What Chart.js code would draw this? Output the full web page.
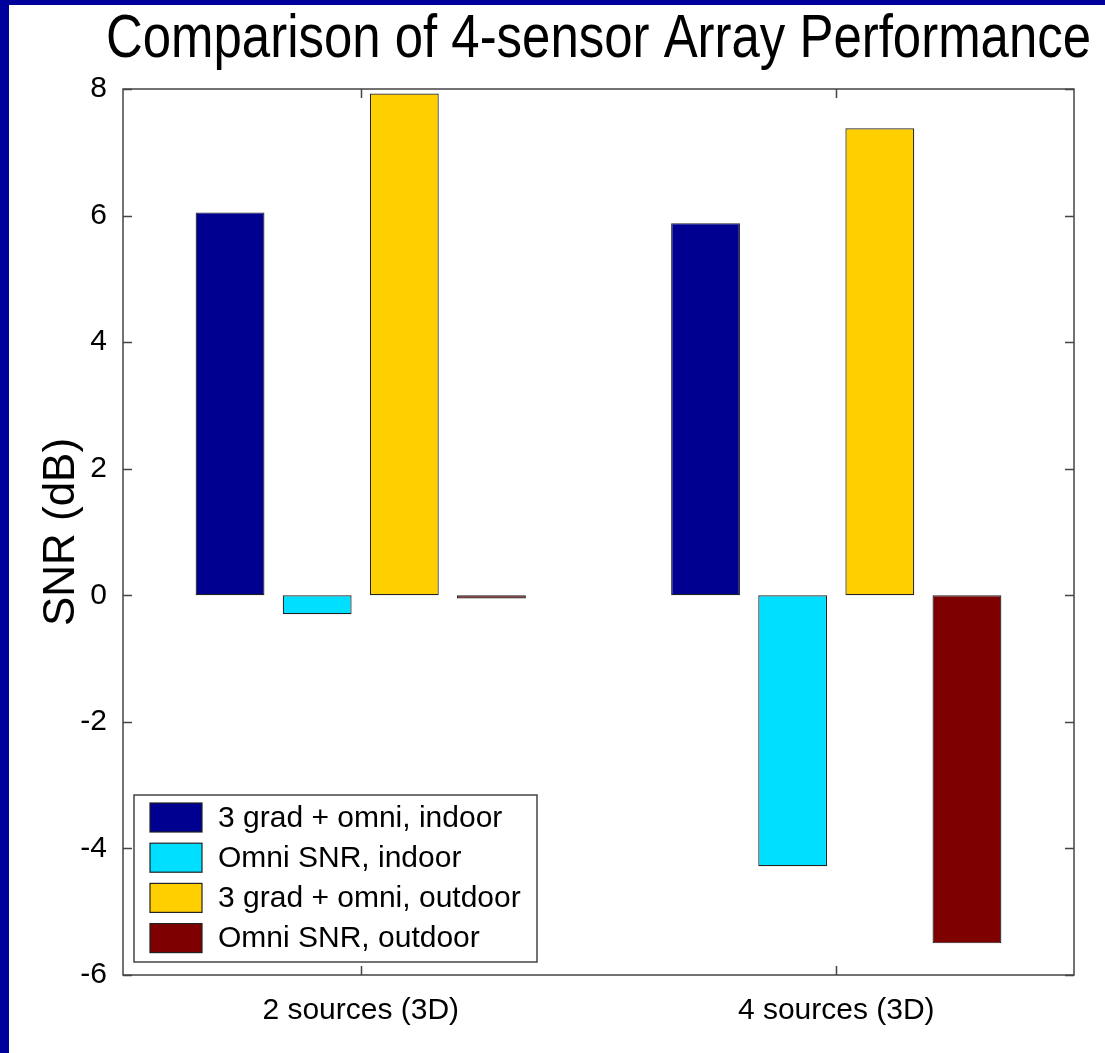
<!DOCTYPE html>
<html>
<head>
<meta charset="utf-8">
<script src="https://cdn.jsdelivr.net/npm/chart.js@4.4.1/dist/chart.umd.min.js"></script>
<style>
    html, body {
        margin: 0;
        padding: 0;
        background: #00009c;
    }
    .frame {
        position: absolute;
        left: 9px;
        top: 5px;
        width: 1096px;
        height: 1048px;
        background: #ffffff;
    }
</style>
</head>
<body>
<div class="frame">
    <canvas id="myChart" width="1096" height="1048"></canvas>
</div>
<script>
const chartTitle = 'Comparison of 4-sensor Array Performance';
const categories = ['2 sources (3D)', '4 sources (3D)'];
const seriesLabels = ['3 grad + omni, indoor', 'Omni SNR, indoor', '3 grad + omni, outdoor', 'Omni SNR, outdoor'];
const gradIndoor = [6.05, 5.88];
const omniIndoor = [-0.30, -4.28];
const gradOutdoor = [7.93, 7.38];
const omniOutdoor = [-0.05, -5.50];
const seriesColors = ['#000090', '#00dfff', '#ffcf00', '#7f0000'];

const ctx = document.getElementById('myChart');

const SANS = "'Liberation Sans', Arial, sans-serif";
const frameColor = '#444444';

// matlab style box, inward ticks, title and legend inside the axes
const matlabAxes = {
    id: 'matlabAxes',
    afterDatasetsDraw(chart) {
        const c = chart.ctx;
        const a = chart.chartArea;
        const x = chart.scales.x;
        const y = chart.scales.y;
        const tick = 9;
        c.save();

        // title, squeezed a little like the original figure
        c.fillStyle = '#000000';
        c.font = '62px ' + SANS;
        c.textAlign = 'center';
        c.textBaseline = 'alphabetic';
        c.fillText(chartTitle, (a.left + a.right) / 2, 52, 985);
        c.textAlign = 'left';

        c.strokeStyle = frameColor;
        c.lineWidth = 1.5;
        c.beginPath();
        y.ticks.forEach(function (t) {
            const py = Math.round(y.getPixelForValue(t.value)) + 0.5;
            c.moveTo(a.left, py);
            c.lineTo(a.left + tick, py);
            c.moveTo(a.right, py);
            c.lineTo(a.right - tick, py);
        });
        categories.forEach(function (cat, i) {
            const px = Math.round(x.getPixelForValue(i)) + 0.5;
            c.moveTo(px, a.bottom);
            c.lineTo(px, a.bottom - tick);
            c.moveTo(px, a.top);
            c.lineTo(px, a.top + tick);
        });
        c.stroke();
        c.strokeRect(a.left, a.top, a.right - a.left, a.bottom - a.top);

        // legend
        const boxW = 403, boxH = 167;
        const bx = a.left + 11;
        const by = a.bottom - 13 - boxH;
        c.fillStyle = '#ffffff';
        c.fillRect(bx, by, boxW, boxH);
        c.strokeRect(bx, by, boxW, boxH);
        c.font = '30px ' + SANS;
        c.textBaseline = 'middle';
        chart.data.datasets.forEach(function (ds, i) {
            const cy = by + 22.5 + i * 40.2;
            c.fillStyle = ds.backgroundColor;
            c.fillRect(bx + 16, cy - 14.5, 52, 29);
            c.strokeStyle = '#222222';
            c.lineWidth = 1.2;
            c.strokeRect(bx + 16, cy - 14.5, 52, 29);
            c.fillStyle = '#000000';
            c.fillText(ds.label, bx + 84, cy + 1);
        });
        c.restore();
    }
};

const datasets = [gradIndoor, omniIndoor, gradOutdoor, omniOutdoor].map(function (values, i) {
    return {
        label: seriesLabels[i],
        data: values,
        backgroundColor: seriesColors[i],
        borderColor: '#222222',
        borderWidth: 1.2,
        borderSkipped: false,
        categoryPercentage: 0.733,
        barPercentage: 0.79
    };
});

new Chart(ctx, {
    type: 'bar',
    data: {
        labels: categories,
        datasets: datasets
    },
    options: {
        responsive: false,
        animation: false,
        devicePixelRatio: 1,
        layout: {
            padding: { left: 0, right: 31, top: 84, bottom: 0 }
        },
        scales: {
            x: {
                offset: true,
                grid: { display: false },
                border: { display: false },
                ticks: {
                    color: '#000000',
                    font: { family: SANS, size: 30 },
                    padding: 10
                },
                afterFit: function (s) { s.height = 78; }
            },
            y: {
                min: -6,
                max: 8,
                grid: { display: false },
                border: { display: false },
                ticks: {
                    stepSize: 2,
                    color: '#000000',
                    font: { family: SANS, size: 30 },
                    padding: 8
                },
                title: {
                    display: true,
                    text: 'SNR (dB)',
                    color: '#000000',
                    font: { family: SANS, size: 44, lineHeight: 1 },
                    padding: { top: 31, bottom: 0 }
                },
                afterFit: function (s) { s.width = 114; }
            }
        },
        plugins: {
            legend: { display: false },
            tooltip: { enabled: false },
            title: { display: false }
        }
    },
    plugins: [matlabAxes]
});
</script>
</body>
</html>
